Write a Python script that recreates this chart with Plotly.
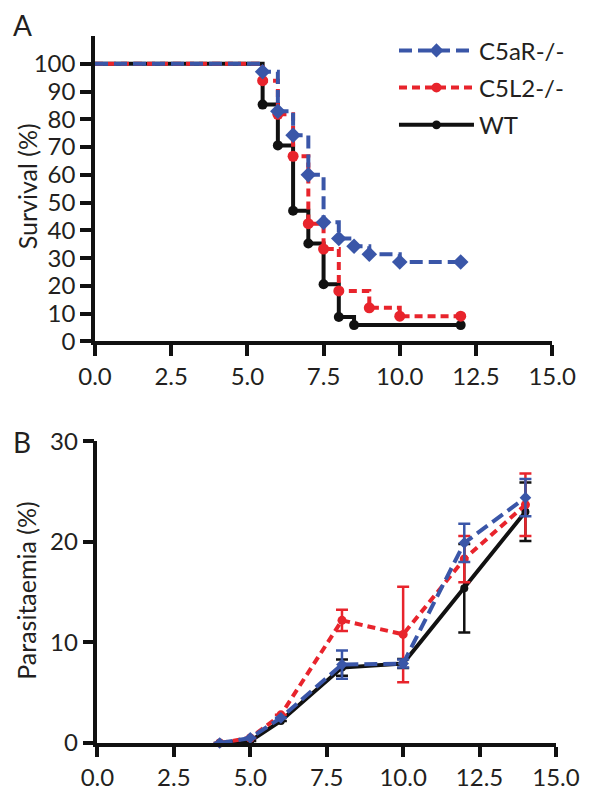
import plotly.graph_objects as go

# ---- Panel A: survival (Kaplan-Meier steps) ----
surv_c5ar_t = [0, 5.5, 6.0, 6.5, 7.0, 7.5, 8.0, 8.5, 9.0, 10.0, 12.0]
surv_c5ar_y = [100, 97.1, 82.9, 74.3, 60.0, 42.9, 37.1, 34.3, 31.4, 28.6, 28.6]
surv_c5l2_t = [0, 5.5, 6.0, 6.5, 7.0, 7.5, 8.0, 9.0, 10.0, 12.0]
surv_c5l2_y = [100, 93.9, 81.8, 66.7, 42.4, 33.3, 18.2, 12.1, 9.1, 9.1]
surv_wt_t = [0, 5.5, 6.0, 6.5, 7.0, 7.5, 8.0, 8.5, 12.0]
surv_wt_y = [100, 85.3, 70.6, 47.1, 35.3, 20.6, 8.8, 5.9, 5.9]

# ---- Panel B: parasitaemia ----
days = [4, 5, 6, 8, 10, 12, 14]
para_c5ar = [0, 0.5, 2.5, 7.8, 7.9, 19.9, 24.4]
para_c5ar_err = [0, 0, 0, 1.4, 0.4, 1.9, 1.85]
para_c5l2 = [0, 0.5, 2.8, 12.2, 10.8, 18.3, 23.7]
para_c5l2_err = [0, 0, 0, 1.05, 4.75, 2.3, 3.1]
para_wt = [0, 0.2, 2.2, 7.5, 7.9, 15.4, 23.0]
para_wt_err = [0, 0, 0, 0.8, 0.45, 4.4, 2.9]

x_ticks = [0, 2.5, 5.0, 7.5, 10.0, 12.5, 15.0]
surv_yticks = [0, 10, 20, 30, 40, 50, 60, 70, 80, 90, 100]
para_yticks = [0, 10, 20, 30]

BLUE = "#3a56a8"
RED = "#e8242c"
BLACK = "#111111"
TXT = "#231f20"
FONT = "Lato"

fig = go.Figure()


def msizes(n, s):
    return [0] + [s] * (n - 1)


def mk(symbol, size, color):
    return dict(symbol=symbol, size=size, color=color, opacity=1, line=dict(width=0))


# survival traces (WT drawn first, C5aR on top)
fig.add_trace(go.Scatter(x=surv_wt_t, y=surv_wt_y, mode="lines+markers", name="WT",
                         legendgroup="wt", legendrank=3,
                         line=dict(color=BLACK, width=4, shape="hv"),
                         marker=mk("circle", msizes(len(surv_wt_t), 10), BLACK),
                         xaxis="x", yaxis="y", cliponaxis=False))
fig.add_trace(go.Scatter(x=surv_c5l2_t, y=surv_c5l2_y, mode="lines+markers", name="C5L2-/-",
                         legendgroup="c5l2", legendrank=2,
                         line=dict(color=RED, width=4, shape="hv", dash="8px,5px"),
                         marker=mk("circle", msizes(len(surv_c5l2_t), 11), RED),
                         xaxis="x", yaxis="y", cliponaxis=False))
fig.add_trace(go.Scatter(x=surv_c5ar_t, y=surv_c5ar_y, mode="lines+markers", name="C5aR-/-",
                         legendgroup="c5ar", legendrank=1,
                         line=dict(color=BLUE, width=4, shape="hv", dash="13px,6px"),
                         marker=mk("diamond", msizes(len(surv_c5ar_t), 12), BLUE),
                         xaxis="x", yaxis="y", cliponaxis=False))

# parasitaemia traces
fig.add_trace(go.Scatter(x=days, y=para_wt, mode="lines+markers", showlegend=False,
                         legendgroup="wt", legendrank=3,
                         line=dict(color=BLACK, width=4),
                         marker=mk("circle", 8, BLACK),
                         error_y=dict(type="data", array=para_wt_err, color=BLACK, thickness=2.5, width=6),
                         xaxis="x2", yaxis="y2", cliponaxis=False))
fig.add_trace(go.Scatter(x=days, y=para_c5l2, mode="lines+markers", showlegend=False,
                         legendgroup="c5l2", legendrank=2,
                         line=dict(color=RED, width=4, dash="8px,5px"),
                         marker=mk("circle", 9, RED),
                         error_y=dict(type="data", array=para_c5l2_err, color=RED, thickness=2.5, width=6),
                         xaxis="x2", yaxis="y2", cliponaxis=False))
fig.add_trace(go.Scatter(x=days, y=para_c5ar, mode="lines+markers", showlegend=False,
                         legendgroup="c5ar", legendrank=1,
                         line=dict(color=BLUE, width=4, dash="13px,6px"),
                         marker=mk("diamond", 9, BLUE),
                         error_y=dict(type="data", array=para_c5ar_err, color=BLUE, thickness=2.5, width=6),
                         xaxis="x2", yaxis="y2", cliponaxis=False))

axis_common = dict(showline=True, linecolor=BLACK, linewidth=3.5, ticks="outside",
                   tickwidth=3.5, tickcolor=BLACK, showgrid=False, zeroline=False,
                   tickfont=dict(family=FONT, size=24, color=TXT))

# The page body keeps its default 8px margin on every side, so the figure is
# sized to fit the 600x811 window exactly; positions below are page pixels.
OFF = 8
FW, FH = 600 - 2 * OFF, 811 - 2 * OFF     # 584 x 795
X0, X1 = 95, 573        # plot area left/right (page px)
Y0, Y1 = 29, 765        # plot area top/bottom (page px)
L, R = X0 - OFF, FW - (X1 - OFF)
T, B = Y0 - OFF, FH - (Y1 - OFF)
W = FW - L - R
H = FH - T - B


def px(xp):  # page x pixel -> paper fraction
    return (xp - X0) / W


def py(yp):  # page y pixel -> paper fraction
    return (Y1 - yp) / H


fig.update_layout(
    width=FW, height=FH,
    margin=dict(l=L, r=R, t=T, b=B),
    plot_bgcolor="white", paper_bgcolor="white",
    font=dict(family=FONT, color=TXT),
    xaxis=dict(domain=[0, px(569)], range=[0, 15], tickvals=x_ticks,
               ticktext=[f"{v:.1f}" for v in x_ticks], anchor="y", ticklen=11, **axis_common),
    yaxis=dict(domain=[py(347), 1], range=[0, 110], tickvals=surv_yticks,
               anchor="x", ticklen=11, **axis_common),
    xaxis2=dict(domain=[px(97.5), 1], range=[0, 15], tickvals=x_ticks,
                ticktext=[f"{v:.1f}" for v in x_ticks], anchor="y2", ticklen=10, **axis_common),
    yaxis2=dict(domain=[0, py(451)], range=[0, 30], tickvals=para_yticks,
                anchor="x2", ticklen=11, **axis_common),
    legend=dict(x=px(405), y=py(21), xanchor="left", yanchor="top",
                traceorder="grouped", font=dict(family=FONT, size=24, color=TXT),
                bgcolor="rgba(0,0,0,0)", itemwidth=75, tracegroupgap=3),
    annotations=[
        dict(text="Survival (%)", x=px(24), y=py(186), xref="paper", yref="paper",
             textangle=-90, showarrow=False, font=dict(family=FONT, size=25, color=TXT),
             xanchor="center", yanchor="middle"),
        dict(text="Parasitaemia (%)", x=px(24), y=py(606), xref="paper", yref="paper",
             textangle=-90, showarrow=False, font=dict(family=FONT, size=25, color=TXT),
             xanchor="center", yanchor="middle"),
        dict(text="A", x=px(8), y=py(18), xref="paper", yref="paper",
             showarrow=False, font=dict(family=FONT, size=28, color=TXT),
             xanchor="left", yanchor="middle"),
        dict(text="B", x=px(8), y=py(452), xref="paper", yref="paper",
             showarrow=False, font=dict(family=FONT, size=28, color=TXT),
             xanchor="left", yanchor="middle"),
    ],
)

fig.write_html("out.html")
